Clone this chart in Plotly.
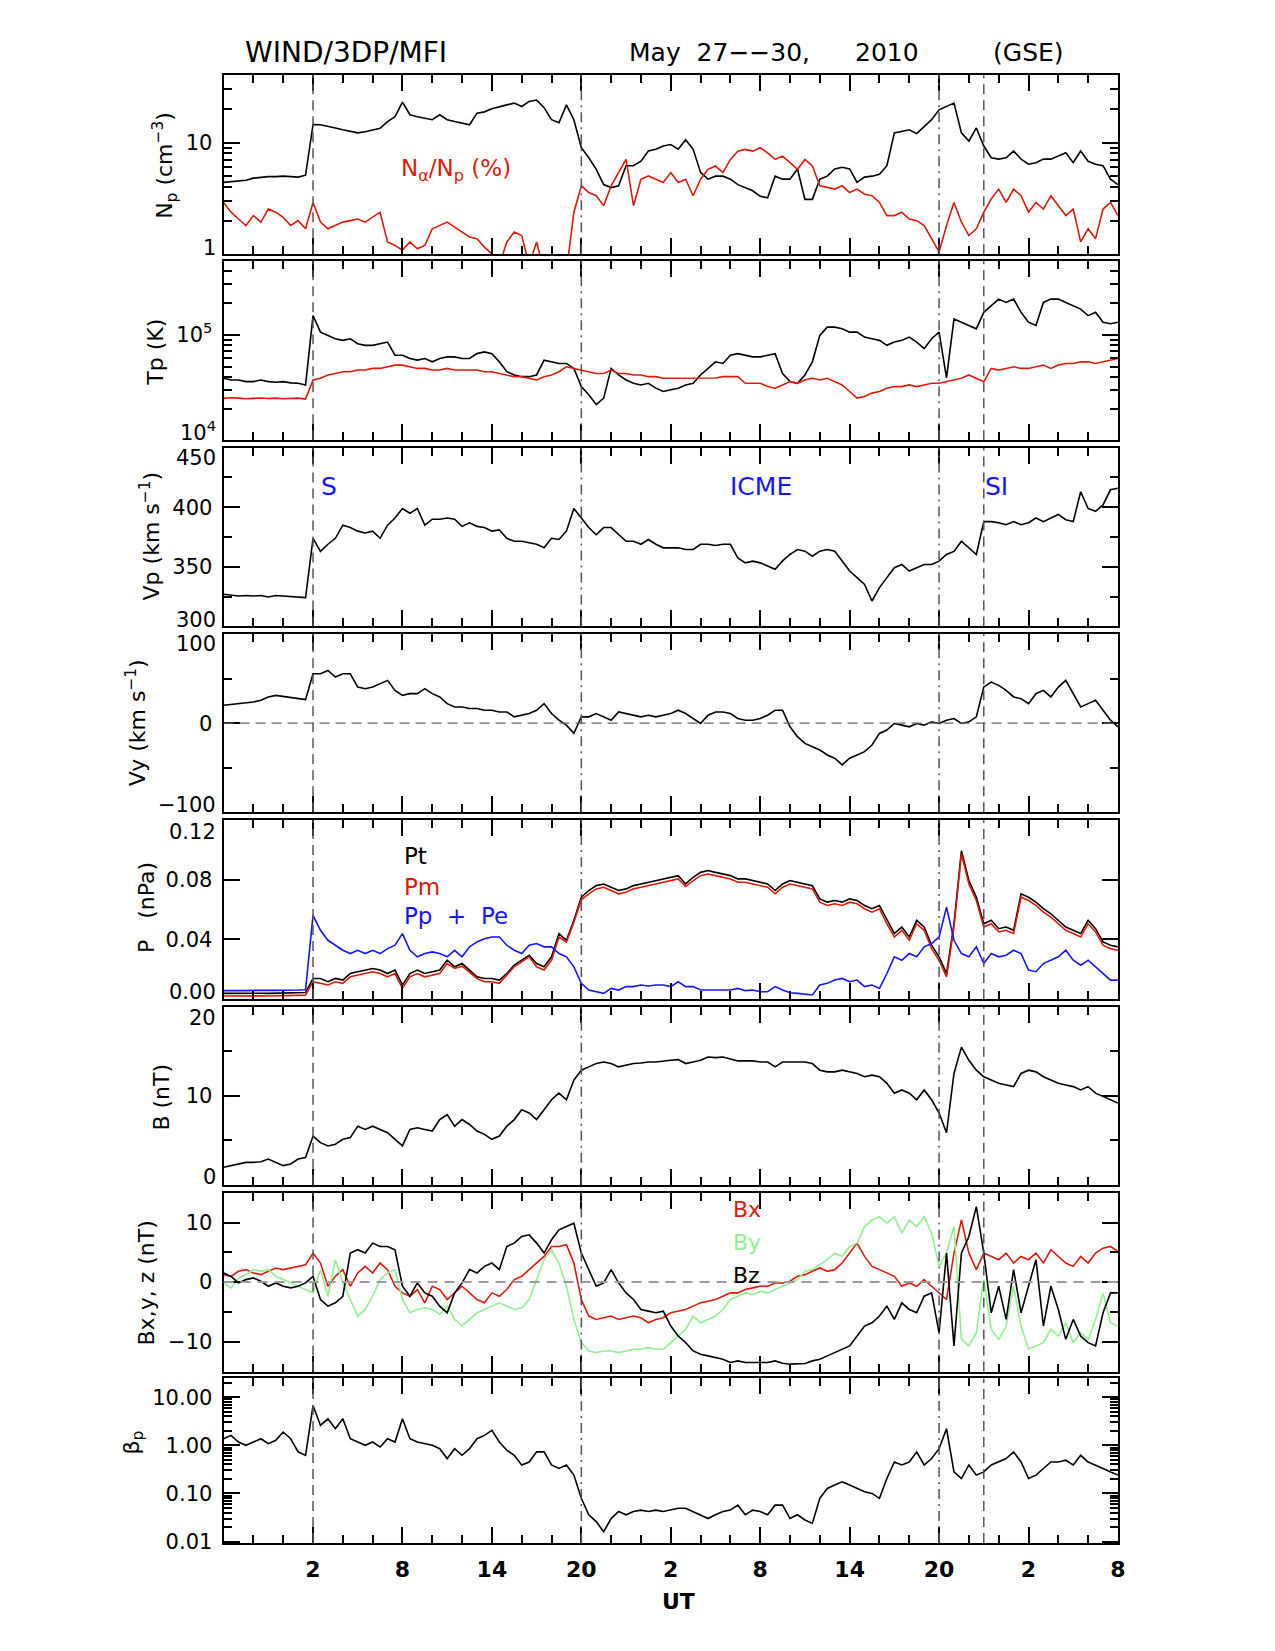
import pandas as pd
import plotly.graph_objects as go

W, H = 1275, 1651

# ---------------- data (30-min samples, 2010-05-27 20:00 UT .. 2010-05-30 08:00 UT) ----------------
time = pd.date_range("2010-05-27 20:00", periods=121, freq="30min")

np_density = [4.4, 4.45, 4.5, 4.6, 4.8, 4.9, 4.95, 4.95, 5.0, 4.95, 4.9, 5.1,
              14.5, 14.4, 14.0, 13.5, 13.0, 12.6, 12.2, 12.5, 13.0, 13.4, 15.4, 17.0,
              23.0, 17.7, 17.0, 16.5, 16.0, 17.7, 16.0, 15.4, 15.0, 14.4, 18.3, 18.8,
              20.0, 21.0, 21.7, 22.5, 21.0, 23.3, 24.0, 20.5, 16.0, 15.0, 21.7, 16.0,
              9.0, 7.3, 5.75, 4.2, 3.95, 4.1, 6.2, 6.2, 6.8, 8.4, 8.7, 9.3,
              9.6, 8.7, 10.6, 8.7, 5.4, 4.7, 5.0, 5.0, 4.7, 4.2, 3.95, 3.7,
              3.3, 3.2, 5.0, 4.7, 4.7, 5.8, 3.1, 3.1, 4.7, 5.0, 5.8, 6.0,
              5.8, 4.4, 4.9, 5.0, 5.2, 6.2, 12.2, 12.6, 13.0, 12.0, 14.0, 16.0,
              19.6, 21.0, 22.5, 12.2, 10.3, 13.5, 9.3, 7.3, 7.1, 7.3, 8.4, 7.1,
              6.4, 6.6, 7.1, 7.1, 7.6, 8.1, 6.6, 8.4, 6.8, 6.4, 6.2, 4.7,
              4.2]

alpha_ratio = [2.91, 2.38, 2.07, 1.81, 2.22, 1.94, 2.54, 2.38, 2.14, 1.81, 2.00, 1.69,
               2.91, 1.94, 1.69, 1.81, 1.94, 2.00, 2.07, 1.94, 2.14, 2.38, 1.29, 1.20,
               1.09, 1.29, 1.12, 1.20, 1.69, 1.81, 1.94, 1.75, 1.58, 1.43, 1.38, 1.16,
               1.01, 0.8, 1.29, 1.58, 1.47, 0.8, 1.29, 0.7, 0.6, 0.6, 0.7, 2.38,
               4.10, 3.57, 3.34, 2.72, 4.10, 5.38, 7.06, 2.72, 4.69, 5.02, 4.69, 4.38,
               5.38, 4.38, 4.69, 3.34, 4.69, 5.76, 6.16, 5.38, 7.06, 8.37, 8.67, 8.37,
               8.97, 8.09, 7.06, 7.56, 6.60, 5.76, 7.06, 6.16, 4.10, 3.96, 3.83, 4.10,
               3.57, 3.83, 3.45, 3.34, 2.91, 2.22, 2.22, 2.38, 2.07, 2.00, 1.81, 1.38,
               1.05, 1.81, 2.91, 1.94, 1.47, 1.69, 2.38, 3.12, 3.83, 2.91, 3.83, 3.34,
               2.38, 2.91, 2.54, 3.34, 2.72, 2.22, 2.54, 1.29, 1.69, 1.38, 2.54, 2.91,
               2.22]

tp = [38700, 37300, 37300, 36000, 36000, 37300, 36000, 35500, 36000, 35000, 34700, 33500,
      151800, 105900, 98600, 91700, 88500, 91700, 82300, 79400, 79400, 82300, 85300, 64000,
      64000, 59600, 57500, 59600, 55400, 59600, 61700, 61700, 59600, 59600, 66300, 68800,
      66300, 55400, 44700, 41600, 40100, 40100, 41600, 57500, 55400, 53500, 53500, 48000,
      32300, 27000, 21800, 25100, 48000, 41600, 37300, 34700, 33500, 34700, 31200, 29000,
      30100, 31200, 33500, 34700, 41600, 48000, 55400, 53500, 64000, 66300, 64000, 61700,
      61700, 64000, 66300, 43000, 36000, 34700, 41600, 55400, 98600, 118000, 118000, 113800,
      105900, 105900, 95100, 91700, 88500, 79400, 85300, 88500, 95100, 85300, 73900, 91700,
      105900, 39000, 141300, 131500, 122400, 113800, 163100, 188400, 217600, 202500, 217600, 163100,
      131500, 122400, 202500, 217600, 217600, 202500, 188400, 175000, 151800, 163100, 131500, 127000,
      131500]

texp = [25000, 25300, 25100, 24800, 25000, 25200, 24900, 25100, 24800, 25000, 25100, 24600,
        37300, 38700, 41600, 43000, 44700, 44700, 46300, 46300, 48000, 48000, 49700, 51600,
        51600, 49700, 48000, 48000, 46300, 46300, 48000, 46300, 46300, 46300, 46300, 44700,
        44700, 43000, 41600, 40100, 40100, 38700, 37300, 40100, 41600, 44700, 49700, 48000,
        46300, 44700, 43000, 43000, 46300, 43000, 43000, 41600, 41600, 40100, 40100, 38700,
        38700, 38700, 38700, 38700, 38700, 38700, 39000, 40100, 40100, 40100, 34700, 34700,
        34700, 32300, 31200, 33500, 36000, 34700, 37300, 38700, 37300, 38700, 36000, 33500,
        29000, 25100, 26000, 28000, 29000, 31200, 32300, 32300, 33500, 32300, 33500, 34700,
        34700, 36000, 37300, 38700, 41600, 38700, 36000, 48000, 46300, 48000, 49700, 48000,
        48000, 49700, 51600, 48000, 51600, 53500, 53500, 55400, 55400, 53500, 55400, 57500,
        59600]

vp = [327, 326.4, 325.6, 326, 325.6, 326, 324.8, 326, 325.6, 325, 324.8, 324.2,
      374, 363, 369, 374, 385, 383, 380, 378.5, 380, 374, 385, 391,
      399, 395, 399, 385, 390, 390, 391, 390, 384, 387, 384, 383,
      380, 381, 374, 371.5, 371.5, 370, 369, 366, 374, 373, 380, 399,
      391, 383, 377, 383, 383, 377, 371.5, 371.5, 369, 373, 369, 366,
      366, 366, 364.6, 364.6, 369, 369, 368, 369, 369, 357.6, 353.4, 354.8,
      353.4, 350.6, 348, 355, 360.4, 364.6, 363.2, 359, 363.2, 364.6, 363.2, 355,
      346.5, 341, 335.3, 321.4, 332.6, 341, 349.3, 352, 346.5, 349.3, 352, 352,
      354.8, 360.4, 363, 371.5, 366, 360.4, 388, 388, 387, 385.4, 388, 385.4,
      387, 391, 388, 391, 394, 389.6, 388, 413, 399, 396.6, 402, 414.7,
      416]

vy = [20.1, 21.0, 21.9, 22.7, 23.8, 25.7, 29.4, 31.2, 30.1, 29.4, 27.5, 26.4,
      55.4, 55.4, 59.1, 51.7, 55.4, 55.4, 40.5, 38.7, 40.5, 44.2, 48.0, 36.8,
      31.2, 33.1, 33.1, 38.7, 33.1, 29.4, 21.9, 18.2, 18.2, 16.4, 16.4, 14.5,
      14.5, 12.6, 12.6, 7.1, 8.9, 10.8, 14.5, 21.9, 10.8, 3.3, -2.2, -11.5,
      7.1, 7.1, 10.8, 7.1, 3.3, 12.6, 10.8, 8.9, 7.1, 8.9, 7.1, 8.9,
      10.8, 14.5, 10.8, 5.2, -0.4, 8.9, 12.6, 12.6, 10.8, 5.2, 3.3, 3.3,
      5.2, 8.9, 14.5, 14.5, -4.1, -15.2, -22.7, -26.4, -30.1, -35.7, -39.4, -46.8,
      -39.4, -35.7, -32.0, -24.5, -11.5, -7.8, -0.4, -2.2, -4.1, -0.4, -2.2, 1.5,
      -0.4, 3.3, 5.2, -0.4, 1.5, 7.1, 40.5, 46.1, 42.4, 36.8, 29.4, 27.5,
      21.9, 33.1, 36.8, 29.4, 40.5, 48.0, 33.1, 18.2, 21.9, 25.7, 14.5, 3.3,
      -4.1]

p_total = [0.0038, 0.0039, 0.0037, 0.0038, 0.0040, 0.0039, 0.0038, 0.0040, 0.0041, 0.0040, 0.0042, 0.0044,
           0.0138, 0.0138, 0.0116, 0.0138, 0.0127, 0.0171, 0.0183, 0.0194, 0.0205, 0.0194, 0.0171, 0.0194,
           0.0093, 0.0171, 0.0194, 0.0171, 0.0183, 0.0194, 0.0260, 0.0216, 0.0238, 0.0194, 0.0149, 0.0138,
           0.0138, 0.0127, 0.0171, 0.0227, 0.0260, 0.0294, 0.0238, 0.0216, 0.0283, 0.0439, 0.0394, 0.0528,
           0.0683, 0.0728, 0.0761, 0.0772, 0.0750, 0.0728, 0.0739, 0.0761, 0.0772, 0.0784, 0.0795, 0.0806,
           0.0817, 0.0828, 0.0772, 0.0817, 0.0850, 0.0862, 0.0850, 0.0839, 0.0828, 0.0806, 0.0806, 0.0795,
           0.0784, 0.0772, 0.0728, 0.0772, 0.0795, 0.0784, 0.0772, 0.0761, 0.0672, 0.0650, 0.0661, 0.0650,
           0.0672, 0.0661, 0.0628, 0.0606, 0.0628, 0.0528, 0.0439, 0.0483, 0.0416, 0.0528, 0.0483, 0.0361,
           0.0283, 0.0171, 0.0505, 0.0995, 0.0795, 0.0683, 0.0505, 0.0528, 0.0472, 0.0483, 0.0461, 0.0706,
           0.0683, 0.0650, 0.0606, 0.0572, 0.0528, 0.0483, 0.0461, 0.0439, 0.0528, 0.0472, 0.0383, 0.0361,
           0.0350]

p_mag = [0.0020, 0.0021, 0.0019, 0.0020, 0.0022, 0.0021, 0.0020, 0.0022, 0.0023, 0.0022, 0.0024, 0.0026,
         0.0116, 0.0105, 0.0094, 0.0116, 0.0105, 0.0149, 0.0160, 0.0171, 0.0183, 0.0171, 0.0149, 0.0171,
         0.0071, 0.0149, 0.0171, 0.0149, 0.0160, 0.0171, 0.0238, 0.0205, 0.0220, 0.0176, 0.0138, 0.0116,
         0.0116, 0.0105, 0.0160, 0.0216, 0.0249, 0.0283, 0.0216, 0.0194, 0.0260, 0.0416, 0.0383, 0.0516,
         0.0666, 0.0706, 0.0739, 0.0750, 0.0728, 0.0706, 0.0717, 0.0739, 0.0750, 0.0761, 0.0772, 0.0784,
         0.0795, 0.0806, 0.0755, 0.0795, 0.0828, 0.0839, 0.0828, 0.0817, 0.0806, 0.0784, 0.0784, 0.0772,
         0.0761, 0.0750, 0.0706, 0.0750, 0.0772, 0.0761, 0.0750, 0.0739, 0.0650, 0.0628, 0.0639, 0.0628,
         0.0650, 0.0639, 0.0606, 0.0583, 0.0606, 0.0505, 0.0416, 0.0461, 0.0394, 0.0505, 0.0461, 0.0338,
         0.0260, 0.0149, 0.0483, 0.0973, 0.0772, 0.0661, 0.0483, 0.0505, 0.0450, 0.0461, 0.0439, 0.0683,
         0.0661, 0.0628, 0.0583, 0.0550, 0.0505, 0.0461, 0.0439, 0.0416, 0.0505, 0.0450, 0.0361, 0.0338,
         0.0327]

p_thermal = [0.0056, 0.0055, 0.0057, 0.0056, 0.0058, 0.0057, 0.0056, 0.0058, 0.0059, 0.0058, 0.0060, 0.0062,
             0.0561, 0.0461, 0.0394, 0.0361, 0.0327, 0.0305, 0.0327, 0.0305, 0.0327, 0.0305, 0.0338, 0.0361,
             0.0439, 0.0327, 0.0283, 0.0305, 0.0316, 0.0305, 0.0283, 0.0327, 0.0283, 0.0350, 0.0383, 0.0405,
             0.0416, 0.0416, 0.0361, 0.0327, 0.0305, 0.0361, 0.0372, 0.0350, 0.0350, 0.0305, 0.0283, 0.0216,
             0.0105, 0.0060, 0.0049, 0.0038, 0.0071, 0.0060, 0.0083, 0.0083, 0.0094, 0.0087, 0.0094, 0.0094,
             0.0083, 0.0116, 0.0083, 0.0083, 0.0060, 0.0060, 0.0065, 0.0060, 0.0060, 0.0071, 0.0056, 0.0060,
             0.0049, 0.0049, 0.0083, 0.0060, 0.0042, 0.0038, 0.0033, 0.0027, 0.0094, 0.0105, 0.0127, 0.0138,
             0.0116, 0.0127, 0.0083, 0.0094, 0.0071, 0.0171, 0.0283, 0.0260, 0.0305, 0.0283, 0.0350, 0.0372,
             0.0416, 0.0617, 0.0394, 0.0305, 0.0283, 0.0350, 0.0238, 0.0305, 0.0283, 0.0294, 0.0327, 0.0305,
             0.0194, 0.0183, 0.0238, 0.0260, 0.0283, 0.0327, 0.0260, 0.0227, 0.0260, 0.0216, 0.0171, 0.0127,
             0.0127]

b_mag = [1.96, 2.15, 2.33, 2.52, 2.52, 2.59, 2.89, 2.52, 2.15, 2.33, 2.89, 3.07,
         5.48, 4.74, 4.37, 4.56, 5.11, 5.30, 6.59, 6.22, 6.59, 6.22, 5.85, 5.11,
         4.37, 6.22, 6.41, 6.22, 6.04, 7.33, 7.89, 6.59, 7.33, 6.78, 6.04, 5.67,
         5.11, 5.48, 6.59, 7.33, 8.44, 8.07, 7.33, 8.44, 9.56, 10.30, 9.56, 11.78,
         12.89, 13.26, 13.63, 13.81, 13.63, 13.26, 13.44, 13.63, 13.70, 13.81, 13.81, 13.93,
         14.00, 14.07, 13.63, 13.81, 14.00, 14.37, 14.30, 14.37, 14.19, 13.93, 13.93, 13.93,
         13.81, 13.81, 13.26, 13.81, 13.81, 13.81, 13.81, 13.63, 12.89, 12.70, 12.70, 12.89,
         12.70, 12.52, 12.15, 12.33, 12.15, 11.41, 10.30, 10.67, 10.30, 9.56, 10.67, 9.56,
         8.07, 5.85, 12.52, 15.48, 14.00, 12.89, 12.15, 11.78, 11.41, 11.22, 11.04, 12.52,
         12.89, 12.70, 12.15, 11.78, 11.41, 11.22, 11.04, 10.67, 11.04, 10.30, 9.93, 9.56,
         9.19]

bx = [1.25, 0.97, 1.81, 2.09, 1.53, 1.25, 1.81, 2.37, 2.09, 2.37, 2.64, 2.92,
      4.87, 3.20, -0.70, 0.97, 2.09, -0.70, 1.53, 2.64, 1.53, 3.20, 2.09, -0.70,
      -1.81, -2.37, -1.25, -3.48, -0.70, -1.25, -2.92, -1.81, -0.70, -1.81, -2.92, -3.48,
      -1.81, -2.37, -1.25, 0.42, 0.97, 2.09, 3.20, 4.31, 5.98, 5.98, 6.26, 3.20,
      -2.92, -5.70, -6.26, -5.98, -5.70, -6.26, -5.98, -5.70, -5.98, -6.82, -6.26, -5.98,
      -5.15, -4.87, -4.59, -4.03, -3.48, -3.20, -2.92, -2.37, -1.81, -1.81, -1.25, -0.97,
      -0.70, -0.70, -0.14, -0.14, 0.14, 0.97, 1.25, 1.81, 2.37, 1.81, 2.09, 3.20,
      4.87, 6.54, 4.31, 2.64, 2.09, 1.53, 0.97, -0.70, -0.14, -0.70, 0.42, -0.70,
      -1.81, -2.92, 4.87, 10.43, 4.87, 2.09, 4.87, 4.31, 3.76, 4.87, 3.20, 4.31,
      3.76, 4.87, 3.20, 5.43, 4.31, 3.20, 2.64, 4.31, 3.20, 4.87, 5.70, 5.98,
      5.15]

by = [-0.14, -0.97, 0.70, 1.25, 2.09, 1.81, 2.09, 0.97, 0.42, -0.14, -0.70, -1.25,
      -1.81, 2.09, -2.37, 3.76, -0.14, -2.92, -5.70, -4.59, -2.37, 0.42, 1.53, 2.09,
      -2.92, -5.15, -4.59, -4.31, -4.59, -5.43, -4.03, -6.26, -7.37, -6.26, -5.15, -4.59,
      -4.03, -3.48, -4.03, -4.59, -4.31, -2.92, 0.42, 3.76, 5.43, 3.20, -0.70, -6.26,
      -10.16, -11.55, -11.83, -11.55, -11.55, -11.83, -11.55, -11.27, -11.27, -10.99, -11.27, -11.27,
      -10.16, -9.04, -7.93, -5.70, -6.82, -6.26, -5.70, -4.59, -2.92, -2.37, -1.81, -2.09,
      -1.53, -1.81, -1.25, -0.70, -0.14, 0.42, 1.81, 2.09, 2.92, 3.76, 4.87, 4.31,
      5.98, 6.54, 9.32, 10.43, 10.99, 9.88, 10.99, 8.21, 10.43, 9.32, 10.99, 8.21,
      2.64, 4.87, 9.32, -9.60, -10.71, -8.49, 0.42, -7.93, -9.60, -7.37, -0.70, -7.37,
      -11.27, -10.71, -10.16, -7.93, -9.04, -6.82, -10.16, -8.49, -9.60, -6.26, -1.81, -6.82,
      -7.37]

bz = [1.53, 0.97, -0.14, 0.42, 0.70, 0.14, -0.70, -0.14, -0.70, -0.97, -0.70, -0.14,
      0.97, -2.92, -4.03, -3.48, -2.37, 4.87, 5.43, 4.87, 6.54, 5.98, 5.98, 5.43,
      -0.70, -2.37, -0.14, -1.81, -2.37, -4.03, -5.15, -1.81, -0.14, 2.09, 1.53, 2.64,
      3.20, 2.09, 5.98, 6.54, 7.65, 7.93, 6.54, 4.87, 7.10, 8.76, 9.32, 9.88,
      4.87, 2.09, -0.70, -0.14, 2.09, -0.14, -1.81, -2.92, -4.59, -4.87, -5.15, -4.87,
      -7.37, -9.04, -10.16, -11.55, -12.10, -12.38, -12.66, -12.94, -13.49, -13.22, -13.49, -13.49,
      -13.61, -13.49, -13.22, -13.61, -13.77, -13.77, -13.66, -13.22, -12.94, -12.38, -11.83, -11.27,
      -10.71, -9.04, -7.37, -6.82, -5.70, -4.03, -6.26, -3.48, -4.59, -5.15, -2.37, -1.81,
      -8.49, 4.87, -10.71, 4.87, 7.65, 12.66, 4.87, -5.15, -0.70, -6.26, 2.09, -5.15,
      -0.70, 3.76, -7.37, -0.70, -4.59, -9.60, -6.26, -9.04, -10.16, -10.71, -5.15, -1.81,
      -1.81]

beta_p = [1.37, 1.61, 1.17, 1.0, 1.17, 1.37, 1.08, 1.27, 1.89, 1.37, 0.73, 0.62,
          6.72, 2.59, 3.56, 2.21, 3.56, 1.37, 1.17, 1.0, 1.17, 0.92, 1.37, 1.17,
          3.56, 1.37, 1.17, 1.08, 1.0, 0.85, 0.53, 0.85, 0.62, 0.85, 1.37, 1.61,
          2.04, 1.17, 0.79, 0.62, 0.39, 0.45, 0.73, 0.73, 0.39, 0.33, 0.39, 0.24,
          0.079, 0.036, 0.026, 0.016, 0.030, 0.042, 0.036, 0.042, 0.045, 0.042, 0.045, 0.042,
          0.045, 0.049, 0.049, 0.042, 0.036, 0.030, 0.036, 0.042, 0.045, 0.057, 0.036, 0.045,
          0.042, 0.036, 0.057, 0.057, 0.030, 0.036, 0.028, 0.024, 0.079, 0.127, 0.149, 0.174,
          0.149, 0.127, 0.108, 0.100, 0.079, 0.204, 0.45, 0.39, 0.45, 0.73, 0.39, 0.53,
          0.85, 2.21, 0.28, 0.204, 0.39, 0.24, 0.28, 0.39, 0.45, 0.53, 0.73, 0.45,
          0.204, 0.24, 0.33, 0.45, 0.45, 0.49, 0.39, 0.62, 0.45, 0.39, 0.33, 0.28,
          0.24]

for s in [np_density, alpha_ratio, tp, texp, vp, vy, p_total, p_mag, p_thermal,
          b_mag, bx, by, bz, beta_p]:
    assert len(s) == len(time), len(s)

# x tick labels (UT hour) and their times
x_tick_times = pd.date_range("2010-05-28 02:00", "2010-05-30 08:00", freq="6h")
x_tick_text = ["2", "8", "14", "20", "2", "8", "14", "20", "2", "8"]

# event times (shock, ICME start, ICME end, stream interface)
event_times = ["2010-05-28 02:00", "2010-05-28 20:00", "2010-05-29 20:00", "2010-05-29 23:00"]
event_dash = ["10px,6px", "10px,5px,2px,5px", "10px,5px,2px,5px", "10px,6px"]

# ---------------- styling ----------------
FONT = "DejaVu Sans"
RED = "#e01a0a"
GREEN = "#92f092"
BLUE = "#1414ff"
GRAY = "#555555"

panels_px = [(75.7, 256.0), (262.7, 443.3), (450.7, 630.7), (638.3, 817.7),
             (825.7, 1005.7), (1013.7, 1192.7), (1200.7, 1380.7), (1387.7, 1553.3)]
x_dom = [225 / W, 1125 / W]

fig = go.Figure()


def ax(i):
    return ("x" if i == 1 else f"x{i}"), ("y" if i == 1 else f"y{i}")


def add(y, panel, color, width=1.6):
    xa, ya = ax(panel)
    fig.add_trace(go.Scatter(x=time, y=y, mode="lines", xaxis=xa, yaxis=ya,
                             line=dict(color=color, width=width), hoverinfo="skip"))


add(np_density, 1, "black")
add(alpha_ratio, 1, RED)
add(tp, 2, "black")
add(texp, 2, RED)
add(vp, 3, "black")
add(vy, 4, "black")
add(p_total, 5, "black")
add(p_mag, 5, RED)
add(p_thermal, 5, BLUE)
add(b_mag, 6, "black")
add(bx, 7, RED)
add(by, 7, GREEN)
add(bz, 7, "black")
add(beta_p, 8, "black")

layout = dict(width=W, height=H, autosize=False, showlegend=False,
              margin=dict(l=0, r=0, t=0, b=0, pad=0),
              paper_bgcolor="white", plot_bgcolor="white",
              font=dict(family=FONT, color="black"))

H2 = 2 * 3600 * 1000
for i in range(1, 9):
    top, bot = panels_px[i - 1]
    xa, ya = ax(i)
    xkey = "xaxis" if i == 1 else f"xaxis{i}"
    ykey = "yaxis" if i == 1 else f"yaxis{i}"
    xd = dict(domain=x_dom, anchor=ya, type="date",
              range=["2010-05-27 20:00", "2010-05-30 08:00"],
              tickmode="array", tickvals=list(x_tick_times), ticktext=x_tick_text,
              ticks="inside", ticklen=16, tickwidth=2, tickcolor="black",
              showline=True, linecolor="black", linewidth=2, mirror="allticks",
              showgrid=False, zeroline=False, showticklabels=(i == 8),
              tickfont=dict(family=FONT, size=22, color="black", weight="bold"),
              ticklabelstandoff=6,
              minor=dict(tick0="2010-05-27 02:00", dtick=H2, ticks="inside", ticklen=8,
                         tickwidth=2, tickcolor="black", showgrid=False))
    if i > 1:
        xd["matches"] = "x"
    layout[xkey] = xd
    yd = dict(domain=[1 - bot / H, 1 - top / H], anchor=xa,
              ticks="inside", ticklen=16, tickwidth=2, tickcolor="black",
              showline=True, linecolor="black", linewidth=2, mirror="allticks",
              showgrid=False, zeroline=False, ticklabelstandoff=5,
              tickfont=dict(family=FONT, size=21, color="black"))
    layout[ykey] = yd


def minor_y(vals):
    return dict(tickmode="array", tickvals=vals, ticks="inside", ticklen=8,
                tickwidth=2, tickcolor="black", showgrid=False)


# labels at the panel edges are drawn as annotations (shifted inward, like the original)
layout["yaxis"].update(type="log", range=[0, 1.60206], tickmode="array",
                       tickvals=[10], ticktext=["10"],
                       minor=minor_y([2, 3, 4, 5, 6, 7, 8, 9, 20, 30]))
layout["yaxis2"].update(type="log", range=[4, 5.699], tickmode="array",
                        tickvals=[1e5], ticktext=["10<sup>5</sup>"],
                        minor=minor_y([2e4, 3e4, 4e4, 5e4, 6e4, 7e4, 8e4, 9e4, 2e5, 3e5, 4e5]))
layout["yaxis3"].update(range=[300, 450], tickmode="array", tickvals=[350, 400],
                        ticktext=["350", "400"], minor=minor_y([325, 375, 425]))
layout["yaxis4"].update(range=[-100, 100], tickmode="array", tickvals=[0],
                        ticktext=["0"], minor=minor_y([-50, 50]))
layout["yaxis5"].update(range=[0, 0.12], tickmode="array", tickvals=[0.04, 0.08],
                        ticktext=["0.04", "0.08"])
layout["yaxis6"].update(range=[0, 20], tickmode="array", tickvals=[10],
                        ticktext=["10"], minor=minor_y([5, 15]))
layout["yaxis7"].update(range=[-15, 15], tickmode="array", tickvals=[-10, 0, 10],
                        ticktext=["\u221210", "0", "10"], minor=minor_y([-5, 5]))
beta_minor = [m * d for d in (0.01, 0.1, 1.0) for m in range(2, 10)] + [20]
layout["yaxis8"].update(type="log", range=[-2.03, 1.39], tickmode="array",
                        tickvals=[0.01, 0.1, 1, 10], ticktext=["0.01", "0.10", "1.00", "10.00"],
                        minor=minor_y(beta_minor))

shapes = []
for i in range(1, 9):
    xa, ya = ax(i)
    for t, d in zip(event_times, event_dash):
        shapes.append(dict(type="line", xref=xa, yref=f"{ya} domain", x0=t, x1=t, y0=0, y1=1,
                           line=dict(color=GRAY, width=1.5, dash=d)))
# reference levels
shapes.append(dict(type="line", xref="x4 domain", yref="y4", x0=0, x1=1, y0=0, y1=0,
                   line=dict(color="#666666", width=1.3, dash="10px,6px")))
shapes.append(dict(type="line", xref="x7 domain", yref="y7", x0=0, x1=1, y0=0, y1=0,
                   line=dict(color="#9a9a9a", width=2, dash="10px,7px")))
shapes.append(dict(type="line", xref="x8 domain", yref="y8", x0=0, x1=1, y0=0, y1=0,
                   line=dict(color=GRAY, width=1.3, dash="10px,5px,2px,5px")))
layout["shapes"] = shapes


def ann(text, xpx, ypx, size=22, color="black", angle=0, xanchor="center", weight="normal"):
    return dict(text=text, x=xpx / W, y=1 - ypx / H, xref="paper", yref="paper",
                showarrow=False, textangle=angle, xanchor=xanchor, yanchor="middle",
                font=dict(family=FONT, size=size, color=color, weight=weight))


LBL_X = 219  # right edge of y tick labels
edge_labels = [("1", 250), ("10<sup>4</sup>", 434), ("450", 461), ("300", 624), ("100", 648),
               ("\u2212100", 810), ("0.12", 838), ("0.00", 999), ("20", 1025), ("0", 1185)]

annotations = [
    ann("WIND/3DP/MFI", 348, 53, size=28),
    ann("May  27\u2212\u221230,", 724, 53, size=25),
    ann("2010", 893, 53, size=25),
    ann("(GSE)", 1035, 53, size=25),
    ann("N<sub>p</sub> (cm<sup>\u22123</sup>)", 166, 166, angle=-90),
    ann("Tp (K)", 157, 355, angle=-90),
    ann("Vp (km s<sup>\u22121</sup>)", 151, 540, angle=-90),
    ann("Vy (km s<sup>\u22121</sup>)", 137, 728, angle=-90),
    ann("P\u00a0\u00a0\u00a0(nPa)", 148, 914, angle=-90),
    ann("B (nT)", 163, 1104, angle=-90),
    ann("Bx,y,\u00a0z (nT)", 147, 1292, angle=-90),
    ann("\u03b2<sub>p</sub>", 134, 1452, angle=-90),
    ann("N<sub>\u03b1</sub>/N<sub>p</sub> (%)", 459, 171, size=23, color=RED),
    ann("S", 331, 490, size=25, color=BLUE),
    ann("ICME", 766, 490, size=25, color=BLUE),
    ann("SI", 1003, 490, size=25, color=BLUE),
    ann("Pt", 405, 862, size=23, xanchor="left"),
    ann("Pm", 405, 893, size=23, color=RED, xanchor="left"),
    ann("Pp\u00a0\u00a0+\u00a0\u00a0Pe", 405, 922, size=23, color=BLUE, xanchor="left"),
    ann("Bx", 736, 1218, size=22, color=RED, xanchor="left"),
    ann("By", 736, 1251, size=22, color=GREEN, xanchor="left"),
    ann("Bz", 736, 1284, size=22, xanchor="left"),
    ann("UT", 683, 1612, size=22, weight="bold"),
]
for txt, ypx in edge_labels:
    annotations.append(ann(txt, LBL_X, ypx, size=21, xanchor="right"))
layout["annotations"] = annotations

fig.update_layout(**layout)

# pin the figure to the top-left corner and make the page exactly the figure's size
page_fix = ("var d=document.documentElement, b=document.body;"
            "var gd=document.getElementById('{plot_id}');"
            "d.style.margin='0'; d.style.padding='0'; d.style.overflow='hidden';"
            "d.style.width='1275px'; d.style.height='1651px';"
            "b.style.margin='0'; b.style.padding='0'; b.style.overflow='hidden';"
            "b.style.width='1275px'; b.style.height='1651px'; b.style.position='relative';"
            "gd.style.position='absolute'; gd.style.left='0px'; gd.style.top='0px';")
fig.write_html("out.html", config={"displayModeBar": False}, post_script=page_fix)
